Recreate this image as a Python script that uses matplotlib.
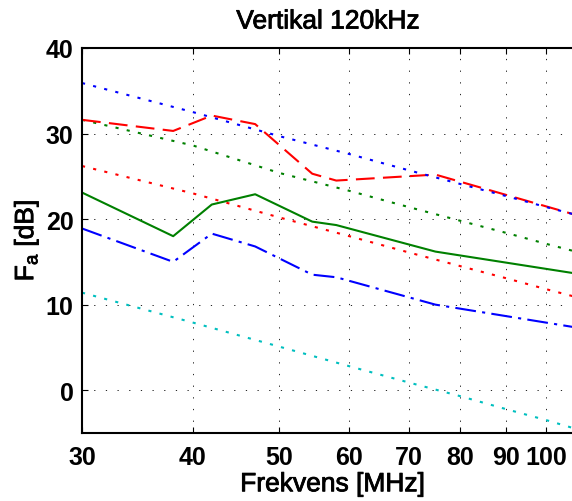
import matplotlib.pyplot as plt
import matplotlib.patheffects as pe

# frekvenser (MHz) och Fa-värden (dB)
f_lin = [30, 40, 50, 60, 70, 80, 90, 100, 107]
f_knee = [30, 38, 42, 47, 54.5, 58, 75, 107]

blue_dot = [35.9, 32.5, 29.7, 27.6, 25.7, 24.1, 22.7, 21.4, 20.6]
green_dot = [31.6, 28.6, 25.4, 23.3, 21.4, 19.8, 18.4, 17.1, 16.3]
red_dot = [26.2, 23.0, 20.2, 18.0, 16.1, 14.5, 13.1, 11.8, 11.0]
cyan_dot = [11.4, 7.9, 5.1, 2.8, 0.9, -0.7, -2.2, -3.5, -4.4]

red_dash = [31.6, 30.3, 32.1, 31.1, 25.3, 24.5, 25.2, 20.6]
green_solid = [23.1, 18.0, 21.7, 22.9, 19.7, 19.3, 16.2, 13.7]
blue_dashdot = [18.9, 15.0, 18.3, 16.8, 13.5, 13.2, 10.0, 7.4]

xticks = [30, 40, 50, 60, 70, 80, 90, 100]
yticks = [0, 10, 20, 30, 40]

BLUE = (0, 0, 1)
GREEN = (0, 0.5, 0)
RED = (1, 0, 0)
CYAN = (0, 0.75, 0.75)

plt.rcParams['font.family'] = ['Liberation Sans', 'DejaVu Sans']

fig = plt.figure(figsize=(5.72, 5.02), dpi=100)
ax = fig.add_axes([0.1434, 0.1355, 0.876, 0.767])

lw = 1.5
dot = (0, (1.5, 4))
ax.plot(f_lin, cyan_dot, color=CYAN, lw=lw, linestyle=dot)
ax.plot(f_knee, blue_dashdot, color=BLUE, lw=lw, linestyle=(0, (10, 3, 1.5, 3)))
ax.plot(f_knee, green_solid, color=GREEN, lw=lw)
ax.plot(f_lin, red_dot, color=RED, lw=lw, linestyle=dot)
ax.plot(f_lin, green_dot, color=GREEN, lw=lw, linestyle=dot)
ax.plot(f_knee, red_dash, color=RED, lw=lw, linestyle=(0, (9, 4)))
ax.plot(f_lin, blue_dot, color=BLUE, lw=lw, linestyle=dot)

ax.set_xscale('log')
ax.set_xlim(30, 110)
ax.set_ylim(-5, 40)
ax.set_xticks(xticks)
ax.set_xticklabels([str(t) for t in xticks])
ax.minorticks_off()
ax.set_yticks(yticks)

ax.grid(True, color='black', linewidth=0.6, linestyle=(0, (1.5, 12.5)))
ax.tick_params(direction='in', length=4, width=0.8, labelsize=18,
               top=True, right=True)
ax.tick_params(axis='x', pad=9)
ax.tick_params(axis='y', pad=6)
for lab in ax.get_xticklabels() + ax.get_yticklabels():
    lab.set_fontweight('bold')

for sp in ax.spines.values():
    sp.set_linewidth(1.5)

# lite kraftigare text för rubrik och axeltitlar
thick = [pe.withStroke(linewidth=0.6, foreground='black')]
t = ax.set_title('Vertikal 120kHz', fontsize=19, pad=14, x=0.491)
xl = ax.set_xlabel('Frekvens [MHz]', fontsize=19, labelpad=2)
yl = ax.set_ylabel(r'$\mathregular{F_a}$ [dB]', fontsize=19, labelpad=4)
for txt in (t, xl, yl):
    txt.set_path_effects(thick)

fig.savefig('out.png', dpi=100)
